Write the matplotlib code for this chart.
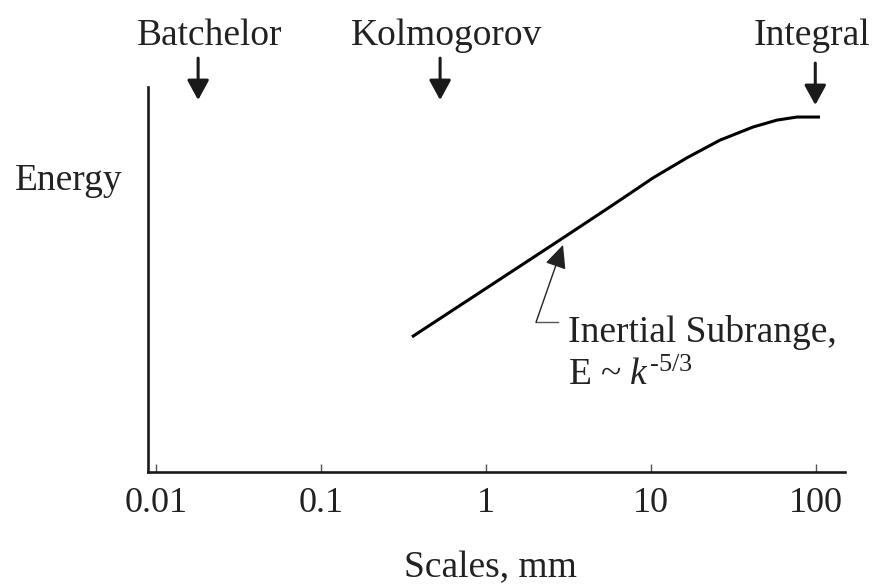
import numpy as np
import matplotlib
matplotlib.use("Agg")
import matplotlib.pyplot as plt

plt.rcParams['font.family'] = ['Liberation Serif', 'DejaVu Serif']
plt.rcParams['mathtext.fontset'] = 'custom'
plt.rcParams['mathtext.rm'] = 'Liberation Serif'
plt.rcParams['mathtext.it'] = 'Liberation Serif:italic'

# Data (scale in mm, energy in arbitrary units)
scales = [0.356, 0.77, 2.93, 5.89, 10.3, 16.5, 26.2, 41.5, 58.0, 76.7, 105.7]
energy = [0.351, 0.445, 0.608, 0.694, 0.764, 0.816, 0.862, 0.896, 0.914, 0.922, 0.922]
tick_vals = [0.01, 0.1, 1, 10, 100]
tick_labels = ['0.01', '0.1', '1', '10', '100']
markers = ['Batchelor', 'Kolmogorov', 'Integral']
marker_x = [0.018, 0.527, 99.0]
label_x = [0.0212, 0.58, 94.6]

W, H = 877, 586
fig = plt.figure(figsize=(W / 100, H / 100), dpi=100)
ax = fig.add_axes([148 / W, 1 - 472 / H, (845 - 148) / W, (472 - 87) / H])

ax.set_xscale('log')
ax.set_xlim(10 ** (-2 - 8 / 165), 10 ** (2 + 29 / 165))
ax.set_ylim(0, 1)

ax.plot(scales, energy, color='black', lw=2.2, solid_capstyle='butt',
        solid_joinstyle='round')

for s in ['top', 'right']:
    ax.spines[s].set_visible(False)
for s in ['left', 'bottom']:
    ax.spines[s].set_linewidth(1.9)
    ax.spines[s].set_color('#1a1a1a')

ax.set_yticks([])
ax.set_xticks(tick_vals)
ax.set_xticklabels(tick_labels)
ax.xaxis.set_minor_locator(matplotlib.ticker.NullLocator())
ax.tick_params(axis='x', direction='in', length=6, width=1.0, color='#555555',
               labelsize=26, pad=11, labelcolor='#222222')

# Top scale markers
trans = ax.get_xaxis_transform()
for name, mx, lx in zip(markers, marker_x, label_x):
    ytop, ybot = (1.075, 0.966) if name != 'Integral' else (1.062, 0.953)
    ax.annotate('', xy=(mx, ybot), xytext=(mx, ytop), xycoords=trans, textcoords=trans,
                arrowprops=dict(arrowstyle='-|>,head_length=0.55,head_width=0.3',
                                lw=2.2, color='#1a1a1a', mutation_scale=22,
                                shrinkA=0, shrinkB=0), annotation_clip=False)
    ax.text(lx, 1.109, name, transform=trans, ha='center', va='baseline',
            fontsize=27, color='#222222', clip_on=False)

# Inertial subrange annotation
ax.plot([2.01, 2.73], [0.389, 0.389], color='#555555', lw=1.0)
ax.annotate('', xy=(2.93, 0.590), xytext=(2.01, 0.389),
            arrowprops=dict(arrowstyle='-|>,head_length=0.72,head_width=0.33',
                            lw=1.0, color='#222222', mutation_scale=20,
                            shrinkA=0, shrinkB=0))
ax.text(3.14, 0.338, 'Inertial Subrange,', fontsize=27, ha='left', va='baseline',
        color='#222222')
ax.text(3.14, 0.226, r'E ~ $\mathit{k}^{\text{-5/3}}$', fontsize=27, ha='left',
        va='baseline', color='#222222')

fig.text(15 / W, 1 - 190 / H, 'Energy', fontsize=27, ha='left', va='baseline',
         color='#222222')
fig.text(490 / W, 1 - 577 / H, 'Scales, mm', fontsize=27, ha='center', va='baseline',
         color='#222222')

fig.savefig('out.png', dpi=100)
